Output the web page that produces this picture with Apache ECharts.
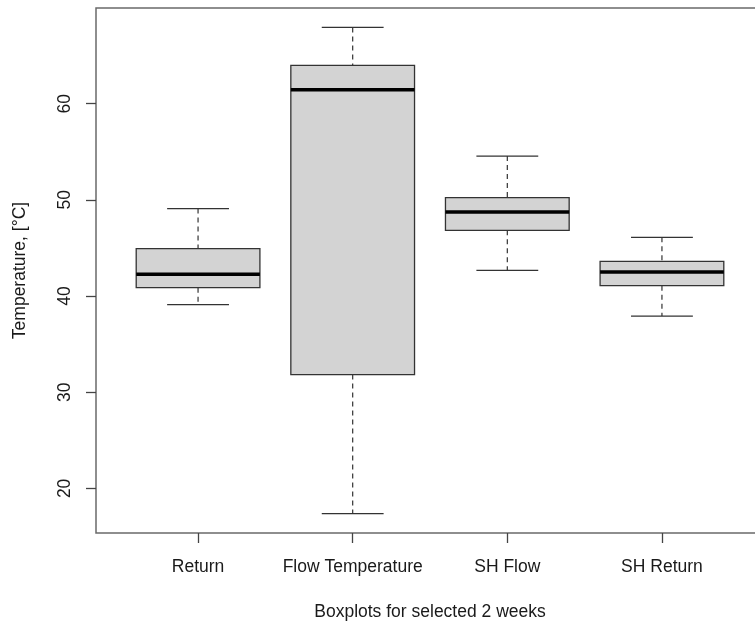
<!DOCTYPE html>
<html>
<head>
<meta charset="utf-8">
<script src="https://cdn.jsdelivr.net/npm/echarts@6/dist/echarts.min.js"></script>
<style>
html,body{margin:0;padding:0;background:#fff;}
#main{width:755px;height:625px;}
</style>
</head>
<body>
<div id="main"></div>
<script>
var categories = ['Return', 'Flow Temperature', 'SH Flow', 'SH Return'];
var lowerWhisker = [39.1, 17.38, 42.67, 37.92];
var lowerQuartile = [40.87, 31.83, 46.83, 41.08];
var medianValues = [42.26, 61.45, 48.73, 42.5];
var upperQuartile = [44.93, 63.98, 50.23, 43.61];
var upperWhisker = [49.09, 67.93, 54.55, 46.1];
var yTicks = [20, 30, 40, 50, 60];
var xPositions = [1, 2, 3, 4];

var FONT = "'Liberation Sans', Arial, sans-serif";
var TXT = '#1a1a1a';

var boxData = categories.map(function (c, i) {
  return [xPositions[i], lowerWhisker[i], lowerQuartile[i], medianValues[i], upperQuartile[i], upperWhisker[i]];
});

function renderBox(params, api) {
  var x = api.value(0);
  var lo = api.value(1), q1 = api.value(2), md = api.value(3), q3 = api.value(4), hi = api.value(5);
  var halfBox = 0.4, halfCap = 0.2;
  var pL = api.coord([x - halfBox, q3]);
  var pR = api.coord([x + halfBox, q1]);
  var pMidL = api.coord([x - halfBox, md]);
  var pMidR = api.coord([x + halfBox, md]);
  var pHi = api.coord([x, hi]);
  var pLo = api.coord([x, lo]);
  var pQ3 = api.coord([x, q3]);
  var pQ1 = api.coord([x, q1]);
  var cL = api.coord([x - halfCap, hi]);
  var cR = api.coord([x + halfCap, hi]);
  var cL2 = api.coord([x - halfCap, lo]);
  var cR2 = api.coord([x + halfCap, lo]);
  return {
    type: 'group',
    children: [
      { type: 'line', shape: { x1: pHi[0], y1: pHi[1], x2: pQ3[0], y2: pQ3[1] },
        style: { stroke: '#333', lineWidth: 1.2, lineDash: [5, 4] } },
      { type: 'line', shape: { x1: pQ1[0], y1: pQ1[1], x2: pLo[0], y2: pLo[1] },
        style: { stroke: '#333', lineWidth: 1.2, lineDash: [5, 4] } },
      { type: 'line', shape: { x1: cL[0], y1: cL[1], x2: cR[0], y2: cR[1] },
        style: { stroke: '#333', lineWidth: 1.3 } },
      { type: 'line', shape: { x1: cL2[0], y1: cL2[1], x2: cR2[0], y2: cR2[1] },
        style: { stroke: '#333', lineWidth: 1.3 } },
      { type: 'rect', shape: { x: pL[0], y: pL[1], width: pR[0] - pL[0], height: pR[1] - pL[1] },
        style: { fill: '#d3d3d3', stroke: '#333', lineWidth: 1.3 } },
      { type: 'line', shape: { x1: pMidL[0], y1: pMidL[1], x2: pMidR[0], y2: pMidR[1] },
        style: { stroke: '#000', lineWidth: 3.5 } }
    ]
  };
}

var chart = echarts.init(document.getElementById('main'), null, { renderer: 'canvas' });
chart.setOption({
  animation: false,
  backgroundColor: '#fff',
  grid: {
    left: 96, width: 668, top: 8, height: 525,
    containLabel: false,
    outerBoundsMode: 'none',
    show: true, borderColor: '#6a6a6a', borderWidth: 1.5, backgroundColor: 'transparent'
  },
  xAxis: {
    type: 'value', min: 0.34, max: 4.66,
    name: 'Boxplots for selected 2 weeks', nameLocation: 'middle', nameGap: 70,
    nameTextStyle: { fontFamily: FONT, fontSize: 17.5, color: TXT },
    axisLine: { show: false },
    splitLine: { show: false },
    axisTick: { show: true, customValues: xPositions, length: 10, lineStyle: { color: '#444', width: 1.3 } },
    axisLabel: {
      customValues: xPositions, margin: 25,
      fontFamily: FONT, fontSize: 17.5, color: TXT,
      formatter: function (v) { return categories[Math.round(v) - 1] || ''; }
    }
  },
  yAxis: {
    type: 'value', min: 15.36, max: 69.95,
    name: 'Temperature, [°C]', nameLocation: 'middle', nameGap: 67, nameRotate: 90,
    nameTextStyle: { fontFamily: FONT, fontSize: 17.5, color: TXT },
    axisLine: { show: false },
    splitLine: { show: false },
    axisTick: { show: true, customValues: yTicks, length: 10, lineStyle: { color: '#444', width: 1.3 } },
    axisLabel: {
      customValues: yTicks, margin: 22, rotate: 90,
      fontFamily: FONT, fontSize: 17.5, color: TXT
    }
  },
  series: [{
    type: 'custom',
    renderItem: renderBox,
    encode: { x: 0, y: [1, 2, 3, 4, 5] },
    data: boxData,
    clip: false
  }]
});
</script>
</body>
</html>
